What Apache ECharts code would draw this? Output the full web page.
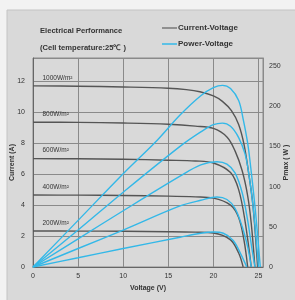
<!DOCTYPE html>
<html>
<head>
<meta charset="utf-8">
<script src="https://cdn.jsdelivr.net/npm/echarts@6/dist/echarts.min.js"></script>
<style>
  html, body { margin: 0; padding: 0; background: #f2f2f2; }
  #chart { width: 295px; height: 300px; }
</style>
</head>
<body>
<div id="chart"></div>
<script>
// irradiance levels (labels drawn over each I-V plateau)
var irradiance = ['1000W/m²', '800W/m²', '600W/m²', '400W/m²', '200W/m²'];

// current-voltage curves, [V, A]
var iv1000 = [[0,11.70],[5,11.68],[10,11.63],[15,11.55],[17,11.46],[18.5,11.32],[20,11.05],[21,10.7],[22,10.1],[22.8,9.2],[23.4,7.9],[23.9,6.1],[24.4,3.9],[24.9,0]];
var iv800  = [[0,9.35],[5,9.34],[10,9.3],[15,9.22],[18,9.1],[20,8.95],[21.5,8.4],[22.4,7.5],[23.2,6.2],[23.8,4.6],[24.2,2.8],[24.6,0]];
var iv600  = [[0,7.0],[5,6.99],[10,6.96],[15,6.9],[18,6.85],[20,6.72],[21.9,6.1],[22.8,5.0],[23.5,3.0],[24.2,0]];
var iv400  = [[0,4.65],[5,4.64],[10,4.62],[15,4.58],[18,4.53],[20,4.45],[21.9,4.0],[22.8,3.2],[23.4,1.7],[23.8,0]];
var iv200  = [[0,2.33],[5,2.32],[10,2.31],[15,2.28],[18,2.25],[20,2.2],[21.9,1.75],[22.8,0.9],[23.3,0]];

// power-voltage curves, [V, W]
var pv1000 = [[0,0],[5,58],[10,116],[13.8,158],[16.3,189],[18.6,213],[20,223],[21,226],[21.9,222],[22.8,207],[23.3,184],[23.8,154],[24.2,118],[24.7,65],[25.2,0]];
var pv800  = [[0,0],[5,46],[10,93],[16.3,150],[18.6,168],[20,177],[21,179],[21.9,175],[22.8,161],[23.5,141],[23.9,118],[24.4,75],[25,0]];
var pv600  = [[0,0],[5,35],[10,70],[16.3,113],[18.6,127],[20.4,131],[21.5,128],[22.4,117],[23.2,92],[23.8,58],[24.2,28],[24.6,0]];
var pv400  = [[0,0],[5,23],[10,46],[16.3,76],[18.6,83],[20.4,87],[21.5,84],[22.4,73],[23.2,50],[23.8,25],[24.2,0]];
var pv200  = [[0,0],[5,11.5],[10,23],[16.3,37],[18.6,42],[20,43.5],[21.1,42],[22.2,33],[23,17],[23.7,0]];

var ivCurves = [iv1000, iv800, iv600, iv400, iv200];
var pvCurves = [pv1000, pv800, pv600, pv400, pv200];

var font = '"Liberation Sans", "Open Sans", sans-serif';
var gray = '#555555';
var blue = '#33b8e8';
var gridGray = '#8a8a8a';

var series = [];
ivCurves.forEach(function (d, i) {
  series.push({
    name: 'Current-Voltage',
    type: 'line',
    yAxisIndex: 0,
    data: d,
    smooth: 0.35,
    showSymbol: false,
    lineStyle: { color: gray, width: 1.4 },
    itemStyle: { color: gray },
    markPoint: {
      symbol: 'circle',
      symbolSize: 0,
      silent: true,
      data: [{ coord: [0.5, d[0][1]], name: irradiance[i] }],
      label: {
        show: true, position: 'right', offset: [0, -8],
        formatter: '{b}', color: '#333', fontSize: 6.5, fontFamily: font
      }
    }
  });
});
pvCurves.forEach(function (d) {
  series.push({
    name: 'Power-Voltage',
    type: 'line',
    yAxisIndex: 1,
    data: d,
    smooth: 0.35,
    showSymbol: false,
    lineStyle: { color: blue, width: 1.4 },
    itemStyle: { color: blue }
  });
});

var chart = echarts.init(document.getElementById('chart'));
chart.setOption({
  animation: false,
  backgroundColor: '#f2f2f2',
  graphic: [{
    type: 'rect', z: -10,
    shape: { x: 7, y: 10, width: 300, height: 300 },
    style: { fill: '#d9d9d9', stroke: '#c4c4c4', lineWidth: 1 }
  }],
  title: {
    text: 'Electrical Performance\n(Cell temperature:25℃ )',
    left: 35, top: 17,
    textStyle: { fontSize: 7.6, fontWeight: 'bold', color: '#333', fontFamily: font, lineHeight: 17 }
  },
  legend: {
    orient: 'vertical', left: 157, top: 19, itemGap: 8,
    icon: 'rect', itemWidth: 15, itemHeight: 1.5,
    textStyle: { fontSize: 8, fontWeight: 'bold', color: '#333', fontFamily: font, padding: [0, 0, 0, -4] },
    data: [
      { name: 'Current-Voltage', itemStyle: { color: '#777' } },
      { name: 'Power-Voltage', itemStyle: { color: blue } }
    ]
  },
  grid: {
    left: 33, right: 32, top: 58, bottom: 33,
    outerBoundsMode: 'none', containLabel: false,
    show: true, borderColor: gridGray, borderWidth: 1, backgroundColor: 'transparent'
  },
  xAxis: {
    type: 'value', min: 0, max: 25.5, interval: 5,
    name: 'Voltage (V)', nameLocation: 'middle', nameGap: 18, nameMoveOverlap: false,
    nameTextStyle: { fontSize: 7, fontWeight: 'bold', color: '#333', fontFamily: font },
    axisLine: { lineStyle: { color: '#666' } },
    axisTick: { show: false },
    axisLabel: { fontSize: 7, color: '#333', margin: 6, fontFamily: font, showMaxLabel: false },
    splitLine: { show: true, lineStyle: { color: gridGray, width: 1 } }
  },
  yAxis: [{
    type: 'value', min: 0, max: 13.5, interval: 2,
    name: 'Current (A)', nameLocation: 'middle', nameGap: 17, nameMoveOverlap: false,
    nameTextStyle: { fontSize: 7, fontWeight: 'bold', color: '#333', fontFamily: font },
    axisLine: { show: true, lineStyle: { color: '#666' } },
    axisTick: { show: false },
    axisLabel: { fontSize: 7, color: '#333', margin: 8, fontFamily: font, showMaxLabel: false },
    splitLine: { show: true, lineStyle: { color: gridGray, width: 1 } }
  }, {
    type: 'value', min: 0, max: 260, interval: 50, position: 'right',
    name: 'Pmax ( W )', nameLocation: 'middle', nameGap: 20, nameRotate: 90, nameMoveOverlap: false,
    nameTextStyle: { fontSize: 7, fontWeight: 'bold', color: '#333', fontFamily: font },
    axisLine: { show: true, lineStyle: { color: gridGray } },
    axisTick: { show: false },
    axisLabel: { fontSize: 7, color: '#333', margin: 6, fontFamily: font, showMaxLabel: false },
    splitLine: { show: false }
  }],
  series: series
});
</script>
</body>
</html>
